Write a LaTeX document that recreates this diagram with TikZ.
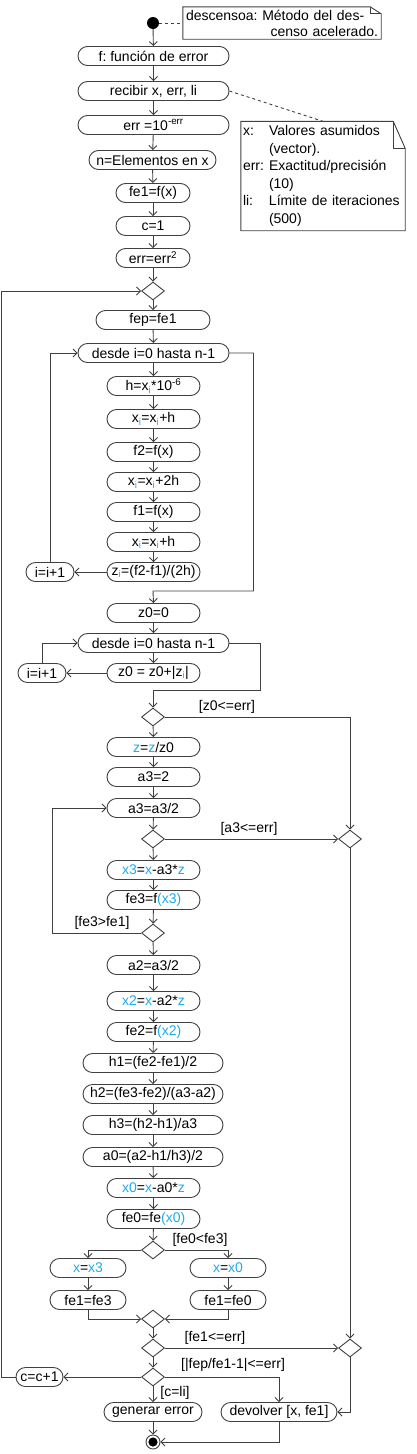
\documentclass[tikz,border=0pt]{standalone}
\usepackage{fontspec}
\setmainfont{Liberation Sans}
\usepackage{xcolor}
\usepackage{tikz}
\usetikzlibrary{calc, shapes.geometric, arrows.meta, positioning}
\definecolor{lineg}{RGB}{64,64,64}
\definecolor{varcyan}{RGB}{30,170,235}
\newcommand{\vc}[1]{\textcolor{varcyan}{#1}}
\frenchspacing

\begin{document}
\begin{tikzpicture}[
        x=1pt, y=-1pt,
        font=\fontsize{14}{17.5}\selectfont,
        act/.style = {draw=lineg, rectangle, rounded corners=9.5pt, minimum height=19pt, inner sep=0pt, line width=0.9pt},
        dec/.style = {draw=lineg, diamond, minimum width=23pt, minimum height=18pt, inner sep=0pt, line width=0.9pt},
        notebox/.style = {inner sep=2pt, minimum height=19pt},
        notedraw/.style = {draw=lineg, line width=0.9pt},
        flow/.style = {draw=lineg, line width=0.9pt, -{Straight Barb[length=4pt, width=8pt]}},
        link/.style = {draw=lineg, line width=0.9pt},
        guard/.style = {inner sep=0pt}
    ]
        \useasboundingbox (0,0) rectangle (416,1454);

        % Start and the first note
        \node (start) [circle, fill=black, minimum size=12pt, inner sep=0pt] at (153,23) {};
        \node (note1) [notebox, minimum width=198pt, minimum height=32pt, text width=192pt, align=left, font=\fontsize{14}{16}\selectfont] at (282,23)
            {descensoa: Método del des-\\\hspace*{\fill}censo acelerado.};
        \draw [notedraw] (note1.north west) -- ($(note1.north east)+(-11,0)$) -- ($(note1.north east)+(0,7)$) -- (note1.south east) -- (note1.south west) -- cycle;
        \draw [notedraw] ($(note1.north east)+(-11,0)$) -- ++(0,7) -- ++(11,0);
        \draw [link, dashed] (start.east) -- (note1.west);

        % Input block
        \node (fun) [act, minimum width=151pt] at (153.5,56) {f: función de error};
        \node (recv) [act, minimum width=151pt] at (153.5,91) {recibir x, err, li};
        \node (errp) [act, minimum width=151pt] at (153.5,125) {err =10\textsuperscript{-err}};
        \node (nel) [act, minimum width=127pt] at (152.5,160) {n=Elementos en x};
        \node (fe1a) [act, minimum width=74pt] at (153,193) {fe1=f(x)};
        \node (c1) [act, minimum width=74pt] at (153,226) {c=1};
        \node (errsq) [act, minimum width=74pt] at (153,258) {err=err\textsuperscript{2}};

        % Second note
        \node (note2) [notebox, minimum width=164pt, minimum height=108pt, text width=160pt, align=left] at (323,176)
            {\begin{tabular}{@{}p{26pt}@{}l@{}}
                x: & Valores asumidos\\
                   & (vector).\\
                err: & Exactitud/precisión\\
                   & (10)\\
                li: & Límite de iteraciones\\
                   & (500)
            \end{tabular}};
        \draw [notedraw] (note2.north west) -- ($(note2.north east)+(-12,0)$) -- ($(note2.north east)+(0,27)$) -- (note2.south east) -- (note2.south west) -- cycle;
        \draw [notedraw] ($(note2.north east)+(-12,0)$) -- ++(0,27) -- ++(12,0);
        \draw [link, dashed] (recv.east) -- (note2.north);

        % Outer loop
        \node (d1) [dec] at (153,291) {};
        \node (fep) [act, minimum width=114pt] at (153,320) {fep=fe1};

        % Gradient loop
        \node (for1) [act, minimum width=151pt] at (153.5,353) {desde i=0 hasta n-1};
        \node (hstep) [act, minimum width=93pt] at (153.5,386) {h=x\textsubscript{\vc{i}}*10\textsuperscript{-6}};
        \node (xa) [act, minimum width=93pt] at (153.5,419) {x\textsubscript{\vc{i}}=x\textsubscript{\vc{i}}+h};
        \node (f2) [act, minimum width=93pt] at (153.5,452) {f2=f(x)};
        \node (xb) [act, minimum width=93pt] at (153.5,482) {x\textsubscript{\vc{i}}=x\textsubscript{\vc{i}}+2h};
        \node (f1) [act, minimum width=93pt] at (153.5,512) {f1=f(x)};
        \node (xc) [act, minimum width=93pt] at (153.5,542) {x\textsubscript{\vc{i}}=x\textsubscript{\vc{i}}+h};
        \node (zi) [act, minimum width=93pt] at (153.5,572) {z\textsubscript{\vc{i}}=(f2-f1)/(2h)};
        \node (inc1) [act, minimum width=48pt] at (50,572) {i=i+1};
        \coordinate (j1) at (153,591);

        % Norm loop
        \node (z00) [act, minimum width=93pt] at (153.5,613) {z0=0};
        \node (for2) [act, minimum width=151pt] at (153.5,643) {desde i=0 hasta n-1};
        \node (zsum) [act, minimum width=93pt] at (153.5,673) {z0 = z0+|z\textsubscript{\vc{i}}|};
        \node (inc2) [act, minimum width=48pt] at (42,673) {i=i+1};
        \coordinate (j2) at (153,690);

        % Line search
        \node (d2) [dec] at (153,717) {};
        \node (znorm) [act, minimum width=93pt] at (153.5,747) {\vc{z}=\vc{z}/z0};
        \node (a3i) [act, minimum width=93pt] at (153.5,777) {a3=2};
        \node (a3h) [act, minimum width=93pt] at (153.5,808) {a3=a3/2};
        \node (d3) [dec] at (153,839) {};
        \node (d4) [dec] at (350,839) {};
        \node (x3) [act, minimum width=93pt] at (153.5,870) {\vc{x3}=\vc{x}-a3*\vc{z}};
        \node (fe3) [act, minimum width=93pt] at (153.5,900) {fe3=f\vc{(x3)}};
        \node (d5) [dec] at (153,933) {};
        \node (a2) [act, minimum width=93pt] at (153.5,965) {a2=a3/2};
        \node (x2) [act, minimum width=93pt] at (153.5,1001) {\vc{x2}=\vc{x}-a2*\vc{z}};
        \node (fe2) [act, minimum width=93pt] at (153.5,1032) {fe2=f\vc{(x2)}};
        \node (h1) [act, minimum width=140pt] at (153,1063) {h1=(fe2-fe1)/2};
        \node (h2) [act, minimum width=140pt] at (153,1094) {h2=(fe3-fe2)/(a3-a2)};
        \node (h3) [act, minimum width=140pt] at (153,1125) {h3=(h2-h1)/a3};
        \node (a0) [act, minimum width=140pt] at (153,1157) {a0=(a2-h1/h3)/2};
        \node (x0) [act, minimum width=93pt] at (153.5,1188) {\vc{x0}=\vc{x}-a0*\vc{z}};
        \node (fe0) [act, minimum width=93pt] at (153.5,1219) {fe0=fe\vc{(x0)}};

        % Choice of the new point
        \node (d6) [dec] at (153,1250) {};
        \node (xx3) [act, minimum width=76pt] at (88,1268) {\vc{x}=\vc{x3}};
        \node (xx0) [act, minimum width=76pt] at (228,1268) {\vc{x}=\vc{x0}};
        \node (fe1b) [act, minimum width=76pt] at (88,1300) {fe1=fe3};
        \node (fe1c) [act, minimum width=76pt] at (228,1300) {fe1=fe0};
        \node (d7) [dec] at (153,1319) {};
        \node (d8) [dec] at (153,1348) {};
        \node (d9) [dec] at (350,1348) {};
        \node (d10) [dec] at (153,1377) {};
        \node (cinc) [act, minimum width=47pt] at (39.5,1377) {c=c+1};
        \node (gen) [act, minimum width=98pt] at (153,1412) {generar error};
        \node (ret) [act, minimum width=116pt] at (279,1412) {devolver [x, fe1]};
        \node (stop) [circle, draw=lineg, line width=0.9pt, minimum size=14pt, inner sep=0pt,
            path picture={\fill[black] (path picture bounding box.center) circle (4.6pt);}] at (153,1442) {};

        % Guards
        \node [guard] at (227,707) {[z0<=err]};
        \node [guard] at (249,829) {[a3<=err]};
        \node [guard] at (102,923) {[fe3>fe1]};
        \node [guard] at (200,1240) {[fe0<fe3]};
        \node [guard] at (215,1338) {[fe1<=err]};
        \node [guard] at (233,1365) {[|fep/fe1-1|<=err]};
        \node [guard] at (175,1393) {[c=li]};

        % Arrows of the input block
        \draw [flow] (start) -- (fun);
        \draw [flow] (fun) -- (recv);
        \draw [flow] (recv) -- (errp);
        \draw [flow] (errp) -- (nel);
        \draw [flow] (nel) -- (fe1a);
        \draw [flow] (fe1a) -- (c1);
        \draw [flow] (c1) -- (errsq);
        \draw [flow] (errsq) -- (d1);
        \draw [flow] (d1) -- (fep);
        \draw [flow] (fep) -- (for1);

        % Arrows of the gradient loop
        \draw [flow] (for1) -- (hstep);
        \draw [flow] (hstep) -- (xa);
        \draw [flow] (xa) -- (f2);
        \draw [flow] (f2) -- (xb);
        \draw [flow] (xb) -- (f1);
        \draw [flow] (f1) -- (xc);
        \draw [flow] (xc) -- (zi);
        \draw [flow] (zi) -- (inc1);
        \draw [flow] (inc1.north) |- (for1.west);
        \draw [flow] (for1.east) -- ++(24,0) |- (j1) -- (z00.north);

        % Arrows of the norm loop
        \draw [flow] (z00) -- (for2);
        \draw [flow] (for2) -- (zsum);
        \draw [flow] (zsum) -- (inc2);
        \draw [flow] (inc2.north) |- (for2.west);
        \draw [flow] (for2.east) -- ++(31,0) |- (j2) -- (d2.north);

        % Arrows of the line search
        \draw [flow] (d2.east) -| (d4.north);
        \draw [flow] (d2) -- (znorm);
        \draw [flow] (znorm) -- (a3i);
        \draw [flow] (a3i) -- (a3h);
        \draw [flow] (a3h) -- (d3);
        \draw [flow] (d3) -- (d4);
        \draw [flow] (d3) -- (x3);
        \draw [flow] (x3) -- (fe3);
        \draw [flow] (fe3) -- (d5);
        \draw [flow] (d5.west) -- ++(-89,0) |- (a3h.west);
        \draw [flow] (d5) -- (a2);
        \draw [flow] (a2) -- (x2);
        \draw [flow] (x2) -- (fe2);
        \draw [flow] (fe2) -- (h1);
        \draw [flow] (h1) -- (h2);
        \draw [flow] (h2) -- (h3);
        \draw [flow] (h3) -- (a0);
        \draw [flow] (a0) -- (x0);
        \draw [flow] (x0) -- (fe0);
        \draw [flow] (fe0) -- (d6);

        % Arrows of the choice and the end
        \draw [flow] (d6.west) -| (xx3.north);
        \draw [flow] (d6.east) -| (xx0.north);
        \draw [flow] (xx3) -- (fe1b);
        \draw [flow] (xx0) -- (fe1c);
        \draw [flow] (fe1b.south) |- (d7.west);
        \draw [flow] (fe1c.south) |- (d7.east);
        \draw [flow] (d7) -- (d8);
        \draw [flow] (d8) -- (d9);
        \draw [flow] (d4) -- (d9);
        \draw [flow] (d8) -- (d10);
        \draw [flow] (d10) -- (cinc);
        \draw [flow] (d10.east) -| (ret.north);
        \draw [flow] (d10) -- (gen);
        \draw [flow] (cinc.west) -- ++(-14,0) |- (d1.west);
        \draw [flow] (d9.south) |- (ret.east);
        \draw [flow] (gen) -- (stop);
        \draw [flow] (ret.south) |- (stop.east);

    \end{tikzpicture}
\end{document}
